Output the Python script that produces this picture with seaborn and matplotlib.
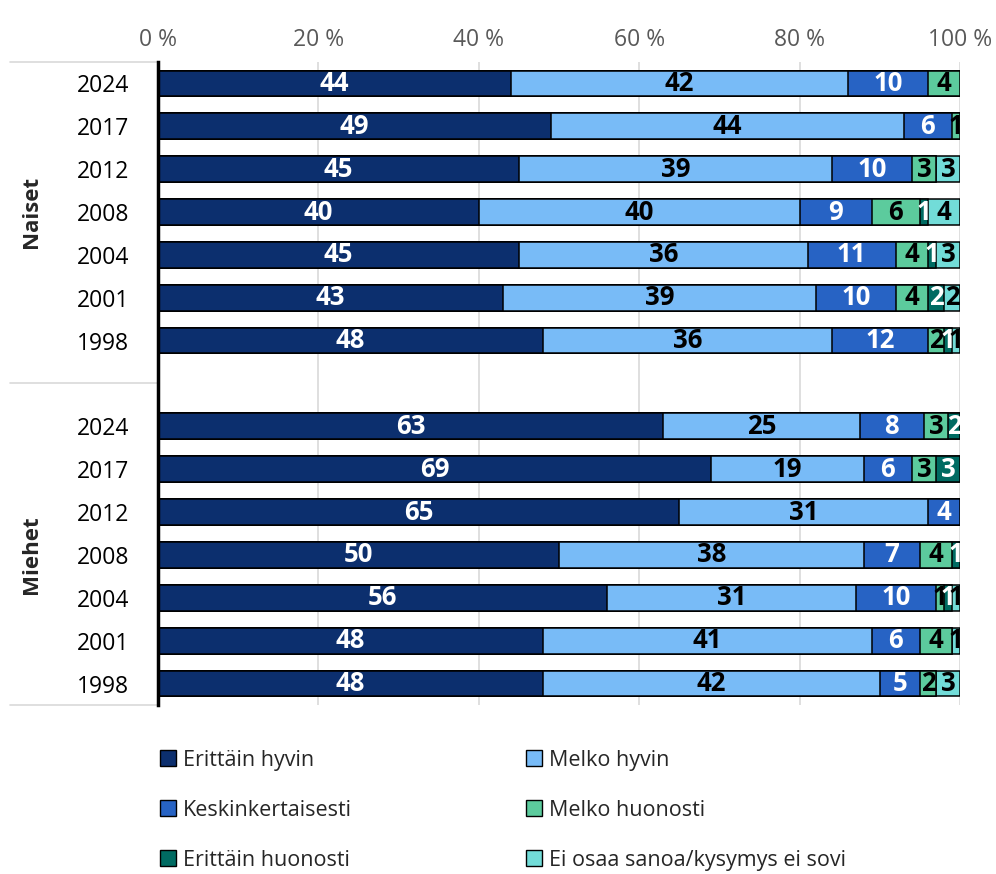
import numpy as np
import pandas as pd
import matplotlib.pyplot as plt
import matplotlib.transforms as mtransforms
from matplotlib.patches import Patch
import seaborn as sns

# ------------------------------------------------------------
# Data (% of respondents)
# ------------------------------------------------------------
years = ["2024", "2017", "2012", "2008", "2004", "2001", "1998"]
groups = ["Naiset", "Miehet"]
categories = ["Erittäin hyvin", "Melko hyvin", "Keskinkertaisesti",
              "Melko huonosti", "Erittäin huonosti",
              "Ei osaa sanoa/kysymys ei sovi"]

naiset_erittain_hyvin = [44, 49, 45, 40, 45, 43, 48]
naiset_melko_hyvin = [42, 44, 39, 40, 36, 39, 36]
naiset_keskinkert = [10, 6, 10, 9, 11, 10, 12]
naiset_melko_huonosti = [4, 1, 3, 6, 4, 4, 2]
naiset_erittain_huonosti = [0, 0, 0, 1, 1, 2, 1]
naiset_ei_osaa = [0, 0, 3, 4, 3, 2, 1]

miehet_erittain_hyvin = [63, 69, 65, 50, 56, 48, 48]
miehet_melko_hyvin = [24.5, 19, 31, 38, 31, 41, 42]
miehet_keskinkert = [8, 6, 4, 7, 10, 6, 5]
miehet_melko_huonosti = [3, 3, 0, 4, 1, 4, 2]
miehet_erittain_huonosti = [1.5, 3, 0, 1, 1, 0, 0]
miehet_ei_osaa = [0, 0, 0, 0, 1, 1, 3]

colors = ["#0c2f6e", "#78bbf7", "#2763c4", "#5ccb9d", "#006b62", "#72dcd8"]
text_colors = ["white", "black", "white", "black", "white", "black"]

# ------------------------------------------------------------
# Long table with cumulative sums
# ------------------------------------------------------------
group_data = {
    "Naiset": [naiset_erittain_hyvin, naiset_melko_hyvin, naiset_keskinkert,
               naiset_melko_huonosti, naiset_erittain_huonosti, naiset_ei_osaa],
    "Miehet": [miehet_erittain_hyvin, miehet_melko_hyvin, miehet_keskinkert,
               miehet_melko_huonosti, miehet_erittain_huonosti, miehet_ei_osaa],
}

rows = []
for g in groups:
    vals = np.array(group_data[g], dtype=float)
    cums = np.cumsum(vals, axis=0)
    for j, y in enumerate(years):
        for k, cat in enumerate(categories):
            rows.append({"row": f"{g} {y}", "category": cat,
                         "value": vals[k, j], "start": cums[k, j] - vals[k, j],
                         "cum": cums[k, j]})
df = pd.DataFrame(rows)

order = [f"Naiset {y}" for y in years] + ["gap"] + [f"Miehet {y}" for y in years]

# ------------------------------------------------------------
# Plot
# ------------------------------------------------------------
sns.set_theme(style="white")
plt.rcParams["font.family"] = ["Open Sans", "DejaVu Sans"]

fig = plt.figure(figsize=(9.96, 8.74), dpi=100)
ax = fig.add_axes([0.1586, 0.1934, 0.8053, 0.7357])

for x in range(0, 101, 20):
    ax.axvline(x, color="#d9d9d9", lw=1.2, zorder=0)

# draw cumulative layers back to front
for k in reversed(range(len(categories))):
    sub = df[df["category"] == categories[k]]
    sns.barplot(data=sub, y="row", x="cum", order=order, orient="h",
                color=colors[k], saturation=1, width=0.6,
                edgecolor="black", linewidth=1.1, ax=ax, zorder=2)

# value labels
for _, r in df.iterrows():
    if r["value"] <= 0:
        continue
    k = categories.index(r["category"])
    ax.text(r["start"] + r["value"] / 2, order.index(r["row"]),
            str(int(r["value"] + 0.5)), ha="center", va="center",
            fontsize=18.5, fontweight="bold", color=text_colors[k], zorder=5)

ax.set_xlim(0, 100)
ax.set_ylim(14.5, -0.5)
ax.set_xlabel("")
ax.set_ylabel("")
ax.xaxis.tick_top()
ax.set_xticks(range(0, 101, 20))
ax.set_xticklabels([f"{x} %" for x in range(0, 101, 20)],
                   fontsize=16.5, color="#595959")
ax.set_yticks(range(len(order)))
ax.set_yticklabels([r.split(" ")[1] if r != "gap" else "" for r in order],
                   fontsize=16.5, color="black")
ax.tick_params(axis="x", length=0, pad=7)
ax.tick_params(axis="y", length=0, pad=21)

for s in ["top", "right", "bottom"]:
    ax.spines[s].set_visible(False)
ax.spines["left"].set_color("black")
ax.spines["left"].set_linewidth(2.5)
ax.spines["left"].set_zorder(6)

# group separators and labels on the left
trans = mtransforms.blended_transform_factory(ax.transAxes, ax.transData)
for yv in [-0.5, 7, 14.5]:
    ax.plot([-0.185, 0], [yv, yv], color="#d9d9d9", lw=1.2,
            transform=trans, clip_on=False)
ax.text(-0.158, 3, "Naiset", rotation=90, ha="center", va="center",
        fontsize=16, fontweight="bold", transform=trans)
ax.text(-0.158, 11, "Miehet", rotation=90, ha="center", va="center",
        fontsize=16, fontweight="bold", transform=trans)

# legend (row-wise order)
legend_order = [0, 2, 4, 1, 3, 5]
handles = [Patch(facecolor=colors[i], edgecolor="black", lw=1) for i in legend_order]
labels = [categories[i] for i in legend_order]
fig.legend(handles, labels, ncol=2, loc="upper left",
           bbox_to_anchor=(0.152, 0.152), frameon=False, fontsize=15.5,
           handlelength=0.75, handleheight=0.75, handletextpad=0.3,
           columnspacing=8.1, labelspacing=1.35, borderaxespad=0)

fig.savefig("out.png", dpi=100)
